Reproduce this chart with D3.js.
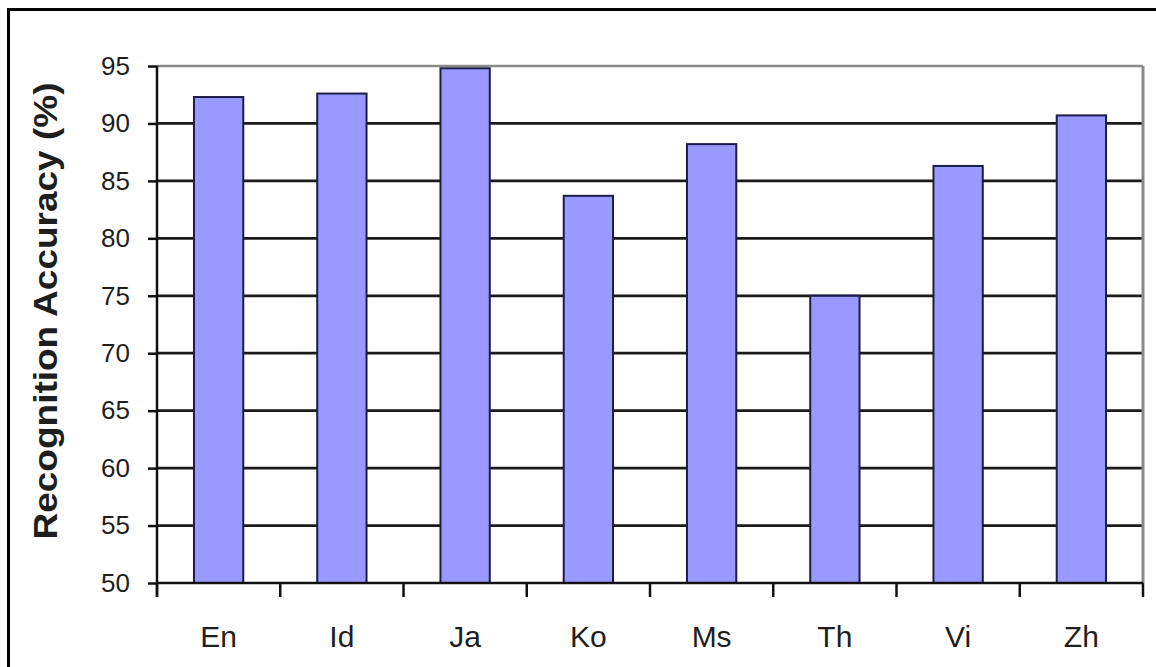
<!DOCTYPE html>
<html>
<head>
<meta charset="utf-8">
<script src="https://cdn.jsdelivr.net/npm/d3@7"></script>
<style>
  body { margin: 0; background: #fff; }
  text { font-family: Arial, "Liberation Sans", sans-serif; fill: #1e1e1e; }
</style>
</head>
<body>
<div id="chart"></div>
<script>
  // languages and accuracy values
  var languages = ["En", "Id", "Ja", "Ko", "Ms", "Th", "Vi", "Zh"];
  var accuracy = [92.3, 92.6, 94.8, 83.7, 88.2, 75.0, 86.3, 90.7];
  var yTicks = [50, 55, 60, 65, 70, 75, 80, 85, 90, 95];

  var width = 1156, height = 667;
  var plot = {left: 157, right: 1143, top: 66, bottom: 583};

  var svg = d3.select("#chart")
              .append("svg")
              .attr("width", width)
              .attr("height", height);

  // outer frame (runs off the right and bottom edge)
  svg.append("rect")
     .attr("x", 8.5)
     .attr("y", 9.5)
     .attr("width", width + 20)
     .attr("height", height + 20)
     .attr("fill", "none")
     .attr("stroke", "#000")
     .attr("stroke-width", 3);

  var x = d3.scaleBand()
            .domain(languages)
            .range([plot.left, plot.right])
            .paddingInner(0.6)
            .paddingOuter(0.3);

  var y = d3.scaleLinear()
            .domain([50, 95])
            .range([plot.bottom, plot.top]);

  // gridlines
  svg.append("g")
     .selectAll("line")
     .data(yTicks.filter(function(d) { return d > 50 && d < 95; }))
     .enter()
     .append("line")
     .attr("x1", plot.left)
     .attr("x2", plot.right)
     .attr("y1", function(d) { return y(d); })
     .attr("y2", function(d) { return y(d); })
     .attr("stroke", "#1a1a1a")
     .attr("stroke-width", 2.8);

  // top and right border of plot area
  svg.append("line")
     .attr("x1", plot.left).attr("x2", plot.right)
     .attr("y1", y(95)).attr("y2", y(95))
     .attr("stroke", "#8a8a8a").attr("stroke-width", 2.5);
  svg.append("line")
     .attr("x1", plot.right).attr("x2", plot.right)
     .attr("y1", y(95)).attr("y2", y(50))
     .attr("stroke", "#8a8a8a").attr("stroke-width", 3);

  // bars
  svg.append("g")
     .selectAll("rect")
     .data(accuracy)
     .enter()
     .append("rect")
     .attr("x", function(d, i) { return x(languages[i]); })
     .attr("y", function(d) { return y(d); })
     .attr("width", x.bandwidth())
     .attr("height", function(d) { return y(50) - y(d); })
     .attr("fill", "#9999ff")
     .attr("stroke", "#1c1c48")
     .attr("stroke-width", 2);

  // y axis
  var yAxis = svg.append("g")
                 .attr("transform", "translate(" + plot.left + ",0)")
                 .call(d3.axisLeft(y).tickValues(yTicks).tickSize(9).tickPadding(18));
  yAxis.select(".domain").remove();
  yAxis.selectAll(".tick line").attr("stroke", "#111").attr("stroke-width", 2.5);
  yAxis.selectAll("text")
       .attr("font-size", 26)
       .attr("fill", "#1e1e1e");
  svg.append("line")
     .attr("x1", plot.left).attr("x2", plot.left)
     .attr("y1", y(95)).attr("y2", y(50) + 14)
     .attr("stroke", "#111").attr("stroke-width", 2.5);

  // x axis with ticks between categories
  var step = x.step();
  var bounds = languages.map(function(c) { return x(c) - (step - x.bandwidth()) / 2; });
  bounds.push(plot.right);

  svg.append("line")
     .attr("x1", plot.left).attr("x2", plot.right)
     .attr("y1", y(50)).attr("y2", y(50))
     .attr("stroke", "#111").attr("stroke-width", 2.5);

  svg.append("g")
     .selectAll("line")
     .data(bounds)
     .enter()
     .append("line")
     .attr("x1", function(d) { return d; })
     .attr("x2", function(d) { return d; })
     .attr("y1", y(50))
     .attr("y2", y(50) + 14)
     .attr("stroke", "#111")
     .attr("stroke-width", 2.5);

  svg.append("g")
     .selectAll("text")
     .data(languages)
     .enter()
     .append("text")
     .attr("x", function(d) { return x(d) + x.bandwidth() / 2; })
     .attr("y", 647)
     .attr("text-anchor", "middle")
     .attr("font-size", 30)
     .text(function(d) { return d; });

  // y axis title
  svg.append("text")
     .attr("transform", "translate(57,311) rotate(-90)")
     .attr("text-anchor", "middle")
     .attr("font-size", 33)
     .attr("font-weight", "bold")
     .attr("textLength", 457)
     .attr("lengthAdjust", "spacingAndGlyphs")
     .text("Recognition Accuracy (%)");
</script>
</body>
</html>
